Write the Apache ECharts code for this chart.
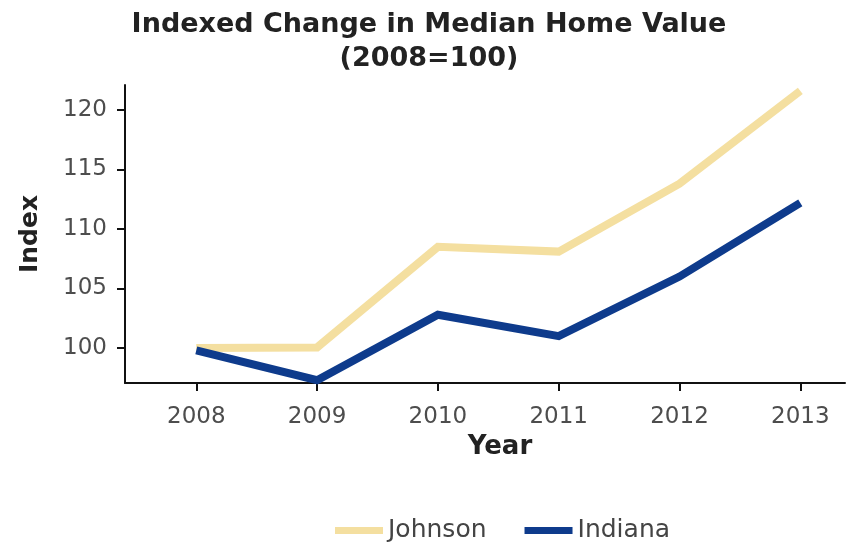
<!DOCTYPE html>
<html>
<head>
<meta charset="utf-8">
<script src="https://cdn.jsdelivr.net/npm/echarts@6/dist/echarts.min.js"></script>
<style>html,body{margin:0;padding:0;background:#fff}#c{width:858px;height:542px}</style>
</head>
<body>
<div id="c"></div>
<script>
const years = [2008, 2009, 2010, 2011, 2012, 2013];
const johnson = [100, 100.05, 108.5, 108.1, 113.8, 121.6];
const indiana = [99.8, 97.3, 102.8, 101.0, 106.0, 112.2];
const yTicks = [100, 105, 110, 115, 120];
const seriesNames = ['Johnson', 'Indiana'];

const FONT = 'DejaVu Sans';
const chart = echarts.init(document.getElementById('c'));
chart.setOption({
  backgroundColor: '#fff',
  animation: false,
  title: {
    text: 'Indexed Change in Median Home Value\n(2008=100)',
    left: 'center',
    top: 3,
    padding: [5, 0, 5, 10],
    textStyle: { fontFamily: FONT, fontSize: 27, fontWeight: 'bold', color: '#222', lineHeight: 34 }
  },
  legend: {
    data: seriesNames,
    left: 330,
    top: 513,
    icon: 'rect',
    itemWidth: 48,
    itemHeight: 7,
    itemGap: 38,
    textStyle: { fontFamily: FONT, fontSize: 25, color: '#444' }
  },
  grid: { left: 125, right: 13, top: 85, bottom: 159 },
  xAxis: {
    type: 'value',
    min: 2007.41,
    max: 2013.37,
    name: 'Year',
    nameLocation: 'middle',
    nameGap: 51,
    nameTextStyle: { fontFamily: FONT, fontSize: 26, fontWeight: 'bold', color: '#222', padding: [0, 0, 0, 30] },
    axisLine: { lineStyle: { color: '#111', width: 2 } },
    axisTick: { show: true, length: 8, customValues: years, lineStyle: { color: '#111', width: 2 } },
    axisLabel: { customValues: years, formatter: v => String(v), margin: 23, fontFamily: FONT, fontSize: 23, color: '#4d4d4d' },
    splitLine: { show: false }
  },
  yAxis: {
    type: 'value',
    min: 97.06,
    max: 122.1,
    name: 'Index',
    nameLocation: 'middle',
    nameGap: 82,
    nameTextStyle: { fontFamily: FONT, fontSize: 25, fontWeight: 'bold', color: '#222' },
    axisLine: { show: true, lineStyle: { color: '#111', width: 2 } },
    axisTick: { show: true, length: 8, customValues: yTicks, lineStyle: { color: '#111', width: 2 } },
    axisLabel: { customValues: yTicks, formatter: v => String(v), margin: 18, fontFamily: FONT, fontSize: 23, color: '#4d4d4d' },
    splitLine: { show: false }
  },
  series: [
    {
      name: seriesNames[0], type: 'line', showSymbol: false, symbol: 'none',
      data: years.map((y, i) => [y, johnson[i]]),
      lineStyle: { color: '#F4DFA0', width: 8, cap: 'butt', join: 'miter' },
      itemStyle: { color: '#F4DFA0' }
    },
    {
      name: seriesNames[1], type: 'line', showSymbol: false, symbol: 'none',
      data: years.map((y, i) => [y, indiana[i]]),
      lineStyle: { color: '#0E3B8C', width: 8, cap: 'butt', join: 'miter' },
      itemStyle: { color: '#0E3B8C' }
    }
  ]
});
</script>
</body>
</html>
